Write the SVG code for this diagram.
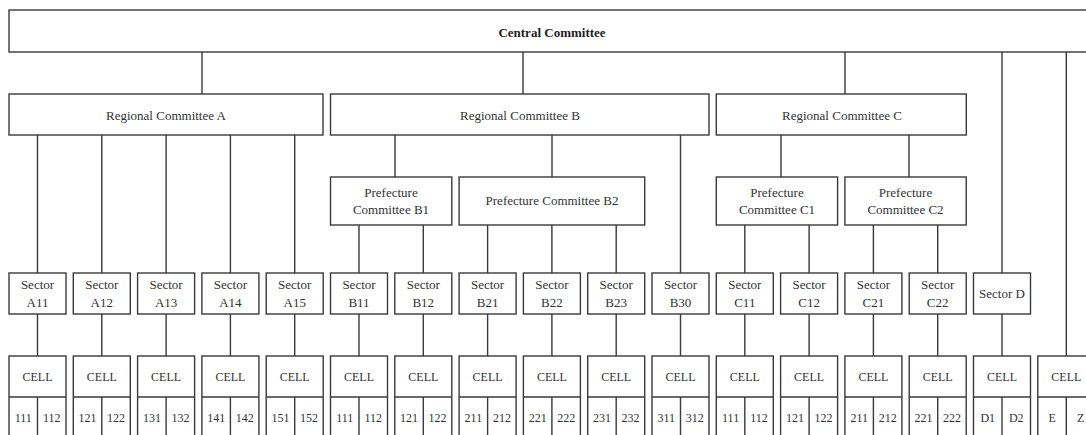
<svg xmlns="http://www.w3.org/2000/svg" width="1086" height="435" viewBox="0 0 1086 435">
<style>
.box{fill:#fff;stroke:#3a3a3a;stroke-width:1.4}
.ln{stroke:#3a3a3a;stroke-width:1.4;fill:none}
.t{font-family:"Liberation Serif",serif;font-size:13px;fill:#333;text-anchor:middle}
.b{font-weight:bold;fill:#222}
.n{font-size:12px}
</style>
<rect width="1086" height="435" fill="#fff"/>
<g id="connectors" class="ln">
<path d="M202 52V94M523 52V94M845 52V94M1002 52V273M1066.3 52V356"/>
<path d="M37.5 135V273M101.8 135V273M166.1 135V273M230.4 135V273M294.7 135V273"/>
<path d="M395 135V177M552 135V177M680.5 135V273"/>
<path d="M359 225V273M423.3 225V273M487.6 225V273M551.9 225V273M616.2 225V273"/>
<path d="M781 135V177M909 135V177"/>
<path d="M744.8 225V273M809.1 225V273M873.4 225V273M937.7 225V273"/>
<path d="M37.5 314V356M101.8 314V356M166.1 314V356M230.4 314V356M294.7 314V356M359 314V356M423.3 314V356M487.6 314V356M551.9 314V356M616.2 314V356M680.5 314V356M744.8 314V356M809.1 314V356M873.4 314V356M937.7 314V356M1002 314V356"/>
</g>
<g id="central"><rect class="box" x="9" y="10" width="1090" height="42"/><text class="t b" x="552" y="36.5">Central Committee</text></g>
<g id="regA"><rect class="box" x="9" y="94" width="314" height="41"/><text class="t" x="166" y="119.5">Regional Committee A</text></g>
<g id="regB"><rect class="box" x="330.5" y="94" width="378.5" height="41"/><text class="t" x="520" y="119.5">Regional Committee B</text></g>
<g id="regC"><rect class="box" x="716.3" y="94" width="250" height="41"/><text class="t" x="842" y="119.5">Regional Committee C</text></g>
<g id="prefB1"><rect class="box" x="330.5" y="177" width="121.3" height="48"/><text class="t" x="391" y="196.5">Prefecture</text><text class="t" x="391" y="213.5">Committee B1</text></g>
<g id="prefB2"><rect class="box" x="459.1" y="177" width="185.6" height="48"/><text class="t" x="552" y="205">Prefecture Committee B2</text></g>
<g id="prefC1"><rect class="box" x="716.3" y="177" width="121.3" height="48"/><text class="t" x="777" y="196.5">Prefecture</text><text class="t" x="777" y="213.5">Committee C1</text></g>
<g id="prefC2"><rect class="box" x="844.9" y="177" width="121.3" height="48"/><text class="t" x="905.5" y="196.5">Prefecture</text><text class="t" x="905.5" y="213.5">Committee C2</text></g>
<g id="sA11"><rect class="box" x="9" y="273" width="57" height="41"/><text class="t" x="37.5" y="289">Sector</text><text class="t" x="37.5" y="306.5">A11</text></g>
<g id="sA12"><rect class="box" x="73.3" y="273" width="57" height="41"/><text class="t" x="101.8" y="289">Sector</text><text class="t" x="101.8" y="306.5">A12</text></g>
<g id="sA13"><rect class="box" x="137.6" y="273" width="57" height="41"/><text class="t" x="166.1" y="289">Sector</text><text class="t" x="166.1" y="306.5">A13</text></g>
<g id="sA14"><rect class="box" x="201.9" y="273" width="57" height="41"/><text class="t" x="230.4" y="289">Sector</text><text class="t" x="230.4" y="306.5">A14</text></g>
<g id="sA15"><rect class="box" x="266.2" y="273" width="57" height="41"/><text class="t" x="294.7" y="289">Sector</text><text class="t" x="294.7" y="306.5">A15</text></g>
<g id="sB11"><rect class="box" x="330.5" y="273" width="57" height="41"/><text class="t" x="359" y="289">Sector</text><text class="t" x="359" y="306.5">B11</text></g>
<g id="sB12"><rect class="box" x="394.8" y="273" width="57" height="41"/><text class="t" x="423.3" y="289">Sector</text><text class="t" x="423.3" y="306.5">B12</text></g>
<g id="sB21"><rect class="box" x="459.1" y="273" width="57" height="41"/><text class="t" x="487.6" y="289">Sector</text><text class="t" x="487.6" y="306.5">B21</text></g>
<g id="sB22"><rect class="box" x="523.4" y="273" width="57" height="41"/><text class="t" x="551.9" y="289">Sector</text><text class="t" x="551.9" y="306.5">B22</text></g>
<g id="sB23"><rect class="box" x="587.7" y="273" width="57" height="41"/><text class="t" x="616.2" y="289">Sector</text><text class="t" x="616.2" y="306.5">B23</text></g>
<g id="sB30"><rect class="box" x="652" y="273" width="57" height="41"/><text class="t" x="680.5" y="289">Sector</text><text class="t" x="680.5" y="306.5">B30</text></g>
<g id="sC11"><rect class="box" x="716.3" y="273" width="57" height="41"/><text class="t" x="744.8" y="289">Sector</text><text class="t" x="744.8" y="306.5">C11</text></g>
<g id="sC12"><rect class="box" x="780.6" y="273" width="57" height="41"/><text class="t" x="809.1" y="289">Sector</text><text class="t" x="809.1" y="306.5">C12</text></g>
<g id="sC21"><rect class="box" x="844.9" y="273" width="57" height="41"/><text class="t" x="873.4" y="289">Sector</text><text class="t" x="873.4" y="306.5">C21</text></g>
<g id="sC22"><rect class="box" x="909.2" y="273" width="57" height="41"/><text class="t" x="937.7" y="289">Sector</text><text class="t" x="937.7" y="306.5">C22</text></g>
<g id="sD"><rect class="box" x="973.5" y="273" width="57" height="41"/><text class="t" x="1002" y="297.5">Sector D</text></g>
<g id="cells">
<g id="c0"><rect class="box" x="9" y="356" width="57" height="90"/><path class="ln" d="M9 397H66M37.5 397V440"/><text class="t n" x="37.5" y="381">CELL</text><text class="t n" x="23.3" y="422">111</text><text class="t n" x="51.8" y="422">112</text></g>
<g id="c1"><rect class="box" x="73.3" y="356" width="57" height="90"/><path class="ln" d="M73.3 397H130.3M101.8 397V440"/><text class="t n" x="101.8" y="381">CELL</text><text class="t n" x="87.6" y="422">121</text><text class="t n" x="116.1" y="422">122</text></g>
<g id="c2"><rect class="box" x="137.6" y="356" width="57" height="90"/><path class="ln" d="M137.6 397H194.6M166.1 397V440"/><text class="t n" x="166.1" y="381">CELL</text><text class="t n" x="151.9" y="422">131</text><text class="t n" x="180.4" y="422">132</text></g>
<g id="c3"><rect class="box" x="201.9" y="356" width="57" height="90"/><path class="ln" d="M201.9 397H258.9M230.4 397V440"/><text class="t n" x="230.4" y="381">CELL</text><text class="t n" x="216.2" y="422">141</text><text class="t n" x="244.7" y="422">142</text></g>
<g id="c4"><rect class="box" x="266.2" y="356" width="57" height="90"/><path class="ln" d="M266.2 397H323.2M294.7 397V440"/><text class="t n" x="294.7" y="381">CELL</text><text class="t n" x="280.5" y="422">151</text><text class="t n" x="309" y="422">152</text></g>
<g id="c5"><rect class="box" x="330.5" y="356" width="57" height="90"/><path class="ln" d="M330.5 397H387.5M359 397V440"/><text class="t n" x="359" y="381">CELL</text><text class="t n" x="344.8" y="422">111</text><text class="t n" x="373.3" y="422">112</text></g>
<g id="c6"><rect class="box" x="394.8" y="356" width="57" height="90"/><path class="ln" d="M394.8 397H451.8M423.3 397V440"/><text class="t n" x="423.3" y="381">CELL</text><text class="t n" x="409.1" y="422">121</text><text class="t n" x="437.6" y="422">122</text></g>
<g id="c7"><rect class="box" x="459.1" y="356" width="57" height="90"/><path class="ln" d="M459.1 397H516.1M487.6 397V440"/><text class="t n" x="487.6" y="381">CELL</text><text class="t n" x="473.4" y="422">211</text><text class="t n" x="501.9" y="422">212</text></g>
<g id="c8"><rect class="box" x="523.4" y="356" width="57" height="90"/><path class="ln" d="M523.4 397H580.4M551.9 397V440"/><text class="t n" x="551.9" y="381">CELL</text><text class="t n" x="537.7" y="422">221</text><text class="t n" x="566.2" y="422">222</text></g>
<g id="c9"><rect class="box" x="587.7" y="356" width="57" height="90"/><path class="ln" d="M587.7 397H644.7M616.2 397V440"/><text class="t n" x="616.2" y="381">CELL</text><text class="t n" x="602" y="422">231</text><text class="t n" x="630.5" y="422">232</text></g>
<g id="c10"><rect class="box" x="652" y="356" width="57" height="90"/><path class="ln" d="M652 397H709M680.5 397V440"/><text class="t n" x="680.5" y="381">CELL</text><text class="t n" x="666.3" y="422">311</text><text class="t n" x="694.8" y="422">312</text></g>
<g id="c11"><rect class="box" x="716.3" y="356" width="57" height="90"/><path class="ln" d="M716.3 397H773.3M744.8 397V440"/><text class="t n" x="744.8" y="381">CELL</text><text class="t n" x="730.6" y="422">111</text><text class="t n" x="759.1" y="422">112</text></g>
<g id="c12"><rect class="box" x="780.6" y="356" width="57" height="90"/><path class="ln" d="M780.6 397H837.6M809.1 397V440"/><text class="t n" x="809.1" y="381">CELL</text><text class="t n" x="794.9" y="422">121</text><text class="t n" x="823.4" y="422">122</text></g>
<g id="c13"><rect class="box" x="844.9" y="356" width="57" height="90"/><path class="ln" d="M844.9 397H901.9M873.4 397V440"/><text class="t n" x="873.4" y="381">CELL</text><text class="t n" x="859.2" y="422">211</text><text class="t n" x="887.7" y="422">212</text></g>
<g id="c14"><rect class="box" x="909.2" y="356" width="57" height="90"/><path class="ln" d="M909.2 397H966.2M937.7 397V440"/><text class="t n" x="937.7" y="381">CELL</text><text class="t n" x="923.5" y="422">221</text><text class="t n" x="952" y="422">222</text></g>
<g id="c15"><rect class="box" x="973.5" y="356" width="57" height="90"/><path class="ln" d="M973.5 397H1030.5M1002 397V440"/><text class="t n" x="1002" y="381">CELL</text><text class="t n" x="987.8" y="422">D1</text><text class="t n" x="1016.3" y="422">D2</text></g>
<g id="c16"><rect class="box" x="1037.8" y="356" width="57" height="90"/><path class="ln" d="M1037.8 397H1094.8M1066.3 397V440"/><text class="t n" x="1066.3" y="381">CELL</text><text class="t n" x="1052.1" y="422">E</text><text class="t n" x="1080.6" y="422">Z</text></g>
</g>
</svg>
